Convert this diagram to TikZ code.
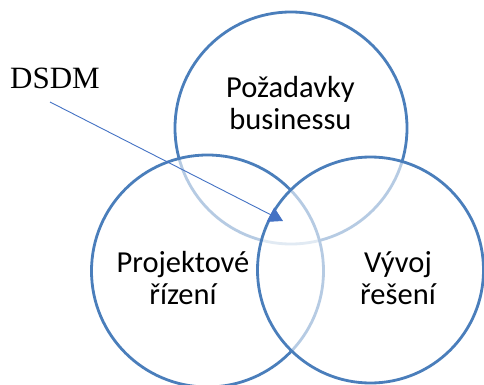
\documentclass[tikz,border=0pt]{standalone}
\usepackage{fontspec}
\setmainfont{Liberation Serif}
\newfontfamily\labelfont{Carlito}
\usetikzlibrary{arrows.meta}
\definecolor{ringblue}{RGB}{74,126,187}
\definecolor{arrowblue}{RGB}{68,114,196}
\tikzset{
  ring/.style={circle, draw=ringblue, line width=2.8pt, fill=white,
    fill opacity=0.6, draw opacity=1, inner sep=0pt},
  % base anchor sits on the last line of a two-line label
  area/.style={font=\labelfont\fontsize{30.5}{32}\selectfont, align=center,
    inner sep=0pt, anchor=base, text=black},
  pointer/.style={draw=arrowblue, line width=0.9pt,
    -{Triangle[length=14pt, width=16pt]}}
}
\begin{document}
\begin{tikzpicture}[x=1pt, y=-1pt]
  \path[use as bounding box, fill=white] (0,0) rectangle (484,385);
  % the three overlapping areas
  \node[ring, minimum size=232pt] (business) at (291,128) {};
  \node[ring, minimum size=232pt] (project) at (207.5,271) {};
  \node[ring, minimum size=226pt] (solution) at (370.5,270) {};
  % labels
  \node[area] (businessText) at (290.5,129) {Požadavky\\businessu};
  \node[area] (projectText) at (183,304) {Projektové\\řízení};
  \node[area] (solutionText) at (398,304) {Vývoj\\řešení};
  % method label pointing into the common overlap
  \node[font=\fontsize{31}{36}\selectfont, inner sep=0pt, anchor=base] (dsdm) at (55,89) {DSDM};
  \coordinate (dsdmTail) at (50,102);
  \coordinate (dsdmTip) at (283,221);
  \draw[pointer] (dsdmTail) -- (dsdmTip);
\end{tikzpicture}
\end{document}
